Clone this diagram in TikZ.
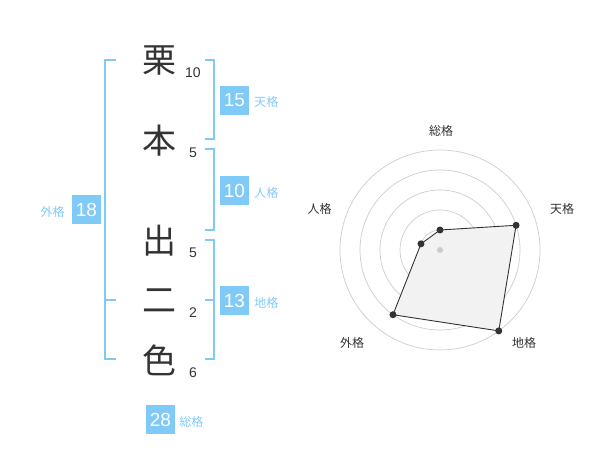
\documentclass[tikz,border=0pt]{standalone}
\usepackage{fontspec}
\setmainfont{Liberation Sans}
\newfontfamily\jp{Noto Sans CJK JP}
\usetikzlibrary{positioning}

\definecolor{kakublue}{RGB}{128,202,248}
\definecolor{inkgray}{RGB}{51,51,51}
\definecolor{ringgray}{RGB}{204,204,204}
\definecolor{areagray}{RGB}{242,242,242}

\tikzset{
	kanji/.style={text=inkgray, inner sep=0pt, font=\jp\fontsize{34}{34}\selectfont},
	strokes/.style={text=inkgray, inner sep=0pt, font=\fontsize{14}{14}\selectfont},
	kakubox/.style={fill=kakublue, text=white, minimum size=29pt, inner sep=0pt, font=\fontsize{19}{19}\selectfont},
	kakuname/.style={text=kakublue, inner sep=0pt, font=\jp\fontsize{12}{12}\selectfont},
	bracket/.style={draw=kakublue, line width=2pt},
	axisname/.style={text=inkgray, inner sep=0pt, font=\jp\fontsize{12}{12}\selectfont},
	dot/.style={circle, fill=inkgray, inner sep=0pt, minimum size=7pt}
}

\begin{document}
\begin{tikzpicture}[x=1pt, y=-1pt]
	\useasboundingbox (0, 0) rectangle (600, 470);

		% Name
		\node[kanji] (c1) at (159, 60.7) {栗};
		\node[kanji] (c2) at (159, 140.7) {本};
		\node[kanji] (c3) at (159, 240.7) {出};
		\node[kanji] (c4) at (159, 300.7) {二};
		\node[kanji] (c5) at (159, 360.7) {色};

		\node[strokes] (s1) at (193, 72.7) {10};
		\node[strokes] (s2) at (193, 152.7) {5};
		\node[strokes] (s3) at (193, 252.7) {5};
		\node[strokes] (s4) at (193, 312.7) {2};
		\node[strokes] (s5) at (193, 372.7) {6};

		% Brackets
		\draw[bracket] (205, 60) -- (214, 60) -- (214, 139) -- (205, 139);   % Tenkaku
		\draw[bracket] (205, 149) -- (214, 149) -- (214, 230) -- (205, 230); % Jinkaku
		\draw[bracket] (205, 240) -- (214, 240) -- (214, 359) -- (205, 359); % Chikaku
		\draw[bracket] (205, 300) -- (214, 300);
		\draw[bracket] (116, 60) -- (105, 60) -- (105, 359) -- (116, 359);   % Gaikaku
		\draw[bracket] (105, 300) -- (116, 300);

		% Scores
		\node[kakubox] (ten) at (234.5, 100.5) {15};
		\node[kakubox] (jin) at (234.5, 190.5) {10};
		\node[kakubox] (chi) at (234.5, 300.5) {13};
		\node[kakubox] (gai) at (86.5, 210) {18};
		\node[kakubox] (sou) at (160.5, 419.5) {28};

		\node[kakuname, anchor=base west, xshift=5pt] (tenname) at (ten.base east) {天格};
		\node[kakuname, anchor=base west, xshift=5pt] (jinname) at (jin.base east) {人格};
		\node[kakuname, anchor=base west, xshift=5pt] (chiname) at (chi.base east) {地格};
		\node[kakuname, anchor=base east, xshift=-7pt] (gainame) at (gai.base west) {外格};
		\node[kakuname, anchor=base west, xshift=4pt] (souname) at (sou.base east) {総格};

	% Radar
	\begin{scope}[shift={(440, 250)}, y=1pt]
		\draw[ringgray, line width=0.7pt] (0, 0) circle (20) (0, 0) circle (40) (0, 0) circle (60) (0, 0) circle (80) (0, 0) circle (100);

		\coordinate (psou) at (90:20);
		\coordinate (pten) at (18:80);
		\coordinate (pchi) at (-54:100);
		\coordinate (pgai) at (234:80);
		\coordinate (pjin) at (162:20);

		\draw[fill=areagray, draw=inkgray, line width=0.9pt] (psou) -- (pten) -- (pchi) -- (pgai) -- (pjin) -- cycle;
		\fill[ringgray] (0, 0) circle (3);

		\node[dot] at (psou) {};
		\node[dot] at (pten) {};
		\node[dot] at (pchi) {};
		\node[dot] at (pgai) {};
		\node[dot] at (pjin) {};
	\end{scope}

		\node[axisname] (asou) at (441, 130.5) {総格};
		\node[axisname] (aten) at (562, 208.5) {天格};
		\node[axisname] (ajin) at (319.5, 208.5) {人格};
		\node[axisname] (agai) at (352, 342.5) {外格};
		\node[axisname] (achi) at (524, 342.5) {地格};

\end{tikzpicture}
\end{document}
